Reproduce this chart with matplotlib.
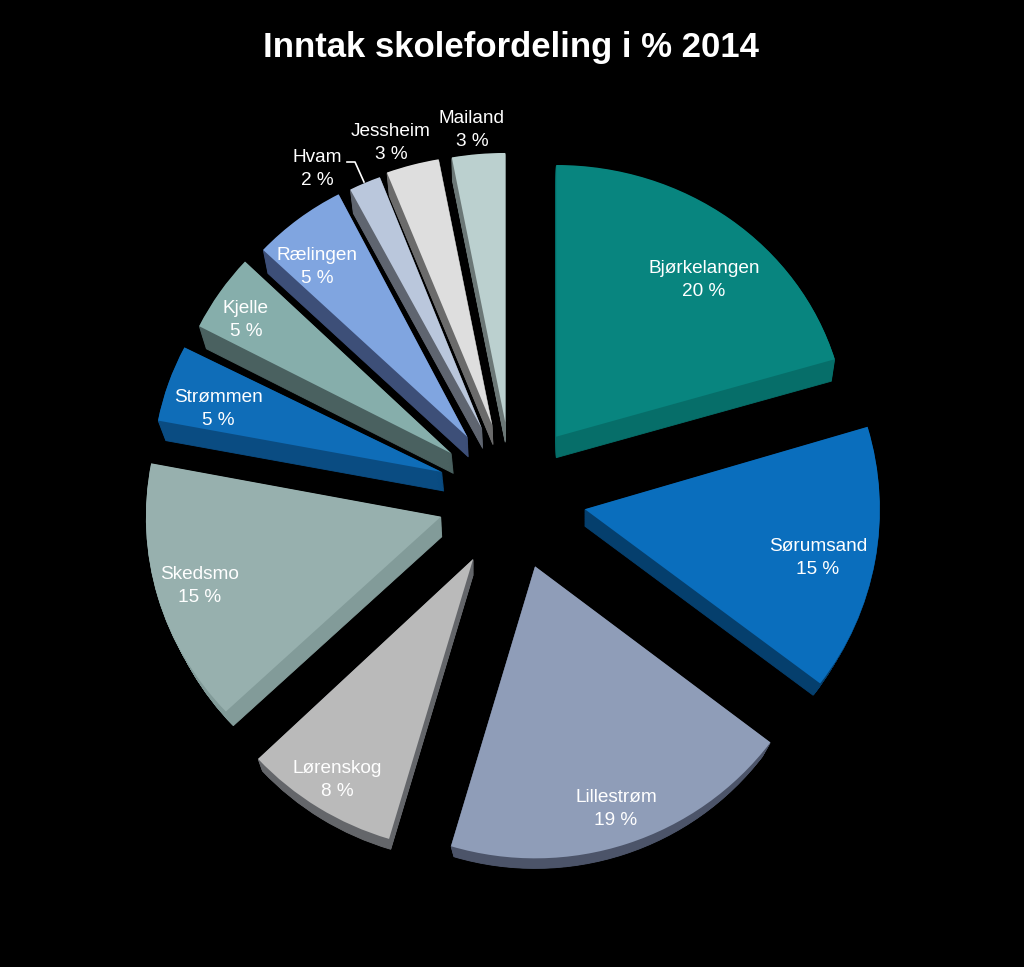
import matplotlib
matplotlib.use("Agg")
import matplotlib.pyplot as plt
from matplotlib.lines import Line2D
from matplotlib.transforms import Affine2D

plt.rcParams['font.family'] = ['Liberation Sans', 'DejaVu Sans']

title = "Inntak skolefordeling i % 2014"
schools = ["Bjørkelangen", "Sørumsand", "Lillestrøm", "Lørenskog", "Skedsmo", "Strømmen",
           "Kjelle", "Rælingen", "Hvam", "Jessheim", "Mailand"]
# slice sizes; the printed labels are these, rounded
shares = [20.4, 14.9, 19.3, 8.4, 15.0, 4.5, 4.5, 5.4, 1.8, 2.9, 2.9]
shown = [20, 15, 19, 8, 15, 5, 5, 5, 2, 3, 3]

top_colors = ["#08857F", "#0A6EBD", "#8F9DB8", "#BABABA", "#97B0AE", "#0F6DB8",
              "#86AEAB", "#80A5E0", "#BAC7DC", "#DEDEDE", "#BBD0CF"]
side_colors = ["#066E69", "#053F6D", "#4C5469", "#64666A", "#829B99", "#0A4C82",
               "#4A6160", "#3D4F78", "#5F6570", "#6B6B6B", "#6B7776"]

# layout (pixels)
W, H = 1024, 967
R = 295
CX, CY = 512, 496
EXPLODE = 74
size = [0.985, 1, 1, 1, 1, 0.98, 0.96, 0.95, 0.97, 1, 1]
tilt = [0.935, 0.98, 0.99, 0.99, 0.965, 0.95, 0.99, 0.975, 0.94, 0.915, 0.913]
side_dx = [0, 0, 0, 0, 1, 2, 2, 1, 1, 1, 0]
side_dy = [21, 17, 20, 16, 20, 19, 20, 20, 20, 20, 20]
side_shrink = [0.012, 0.03, 0.034, 0.02, 0.03, 0.02, 0.02, 0.018, 0.015, 0.012, 0.01]
label_xy = [(704, 280), (818, 558), (616, 809), (337, 780), (200, 586), (218, 409),
            (246, 320), (317, 267), (317, 169), (391, 143), (472, 130)]

fig = plt.figure(figsize=(W / 100, H / 100), dpi=100, facecolor='black')
ax = fig.add_axes([0, 0, 1, 1], facecolor='black')


def squash(wedge, factor):
    """Flatten a wedge about its own apex to imitate the tilted disc."""
    cx, cy = wedge.center
    wedge.set_transform(Affine2D().translate(-cx, -cy).scale(1, factor).translate(cx, cy)
                        + ax.transData)


center = (CX, H - CY)
explode = [EXPLODE] * len(shares)
LAYERS = 24
for n in range(LAYERS, 0, -1):
    t = n / LAYERS
    wedges, _ = ax.pie(shares, explode=explode, center=center, radius=R,
                       startangle=90, counterclock=False, colors=side_colors,
                       wedgeprops=dict(linewidth=0.6, edgecolor='none'))
    for w, s, dx, dy, sh, col, f in zip(wedges, size, side_dx, side_dy, side_shrink,
                                        side_colors, tilt):
        cx0, cy0 = w.center
        w.set_center((cx0 + t * dx, cy0 - t * dy))
        w.set_radius(R * s * (1 - sh * t))
        w.set_edgecolor(col)
        squash(w, f)

tops, _ = ax.pie(shares, explode=explode, center=center, radius=R, startangle=90,
                 counterclock=False, colors=top_colors, wedgeprops=dict(linewidth=0))
for w, s, f in zip(tops, size, tilt):
    w.set_radius(R * s)
    squash(w, f)

ax.set_aspect('auto')
ax.set_xlim(0, W)
ax.set_ylim(0, H)
ax.set_frame_on(False)
ax.set_xticks([])
ax.set_yticks([])

for name, share, (x, y) in zip(schools, shown, label_xy):
    fig.text(x / W, 1 - y / H, f"{name}\n{share} %", color='white', fontsize=13.7,
             ha='center', va='center', linespacing=1.45)

fig.add_artist(Line2D([347 / W, 355 / W, 364 / W],
                      [1 - 162 / H, 1 - 162 / H, 1 - 182 / H],
                      color='white', lw=1.2, transform=fig.transFigure))

fig.text(511 / W, 1 - 47 / H, title, color='white', fontsize=25, fontweight='bold',
         ha='center', va='center')

fig.savefig("out.png", dpi=100, facecolor='black')
